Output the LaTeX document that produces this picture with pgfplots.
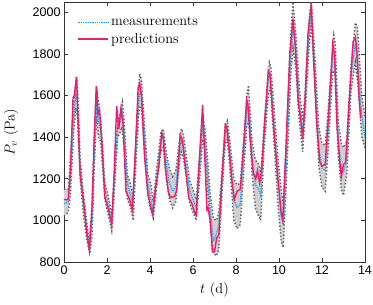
\documentclass[border=0pt]{standalone}
\usepackage{fontspec}
\newfontfamily\tickfont{Liberation Sans}
\usepackage{pgfplots}
\usepackage{pgfplotstable}
\pgfplotsset{compat=1.18}
\usepgfplotslibrary{fillbetween}
\definecolor{predred}{RGB}{238,28,108}
\definecolor{measblue}{RGB}{25,155,245}
\definecolor{bandgray}{RGB}{208,208,208}
\definecolor{bordgray}{RGB}{95,95,95}

\pgfplotstableread{
t P
0.00 1100
0.20 1100
0.30 1250
0.42 1590
0.48 1600
0.58 1690
0.65 1500
0.75 1220
0.90 1100
1.05 950
1.18 855
1.30 1050
1.42 1450
1.50 1645
1.58 1510
1.65 1530
1.75 1400
1.90 1110
2.05 1060
2.22 980
2.32 1200
2.45 1550
2.55 1440
2.65 1540
2.75 1460
2.88 1140
3.05 1100
3.18 1050
3.30 1300
3.45 1640
3.52 1660
3.60 1600
3.75 1300
3.90 1130
4.00 1080
4.13 1025
4.25 1150
4.40 1250
4.55 1420
4.62 1400
4.72 1250
4.85 1140
4.95 1110
5.15 1115
5.25 1150
5.40 1410
5.50 1390
5.65 1250
5.80 1110
5.95 1080
6.10 1030
6.15 1025
6.30 1300
6.45 1555
6.55 1300
6.65 1050
6.70 1060
6.80 1000
6.90 850
7.00 850
7.10 915
7.20 930
7.35 1200
7.50 1460
7.57 1450
7.70 1320
7.80 1200
7.92 1100
8.05 1140
8.20 1150
8.35 1350
8.50 1580
8.55 1560
8.65 1400
8.80 1230
8.92 1200
9.00 1240
9.10 1180
9.20 1250
9.35 1500
9.50 1720
9.58 1700
9.75 1450
9.95 1200
10.10 1040
10.18 1000
10.30 1300
10.50 1800
10.65 1970
10.75 1850
10.90 1560
11.00 1500
11.10 1390
11.20 1550
11.35 1900
11.50 2040
11.60 1800
11.75 1470
11.90 1280
12.00 1260
12.15 1270
12.30 1500
12.50 1850
12.58 1800
12.70 1450
12.82 1290
12.90 1210
13.00 1270
13.10 1280
13.25 1550
13.45 1860
13.55 1880
13.62 1820
13.72 1600
13.80 1490
}\pred

\pgfplotstableread{
t P
0.00 1080
0.20 1090
0.30 1200
0.45 1500
0.55 1600
0.62 1560
0.75 1250
0.90 1080
1.05 960
1.18 880
1.30 1000
1.42 1350
1.52 1560
1.60 1480
1.70 1440
1.90 1150
2.05 1080
2.22 1000
2.35 1200
2.50 1450
2.60 1470
2.70 1520
2.80 1400
2.95 1180
3.05 1130
3.20 1080
3.35 1350
3.50 1600
3.60 1620
3.75 1400
3.90 1180
4.00 1120
4.13 1050
4.30 1200
4.50 1380
4.62 1400
4.75 1280
4.90 1180
5.05 1140
5.20 1160
5.35 1320
5.45 1380
5.55 1360
5.70 1250
5.85 1140
6.00 1100
6.15 1060
6.30 1250
6.45 1450
6.55 1400
6.65 1250
6.80 1050
6.95 900
7.10 940
7.20 980
7.35 1200
7.50 1420
7.60 1440
7.75 1280
7.90 1100
8.05 1060
8.20 1080
8.35 1300
8.50 1530
8.60 1550
8.75 1300
8.90 1170
9.05 1150
9.15 1120
9.30 1400
9.50 1680
9.60 1700
9.75 1480
9.95 1200
10.10 1020
10.20 980
10.35 1300
10.55 1800
10.65 1930
10.78 1820
10.95 1550
11.10 1420
11.20 1550
11.40 1900
11.50 2000
11.65 1750
11.85 1350
12.00 1250
12.15 1240
12.30 1450
12.50 1800
12.60 1780
12.75 1400
12.90 1250
13.00 1230
13.15 1300
13.35 1700
13.55 1850
13.70 1700
13.85 1500
14.00 1400
}\meas

\pgfplotstableread{
t P
0.00 1150
0.20 1150
0.30 1300
0.45 1560
0.58 1695
0.65 1600
0.75 1300
0.90 1130
1.05 1000
1.18 900
1.30 1070
1.42 1420
1.55 1610
1.62 1560
1.72 1470
1.90 1180
2.05 1120
2.22 1030
2.35 1230
2.50 1480
2.60 1510
2.72 1570
2.82 1440
2.95 1220
3.10 1170
3.22 1110
3.35 1400
3.52 1705
3.60 1680
3.75 1450
3.90 1220
4.05 1170
4.15 1090
4.30 1240
4.50 1420
4.62 1440
4.75 1330
4.90 1250
5.05 1210
5.20 1240
5.35 1370
5.45 1440
5.55 1420
5.70 1300
5.85 1190
6.00 1150
6.15 1100
6.30 1300
6.45 1500
6.55 1450
6.65 1330
6.80 1130
6.95 1010
7.10 1000
7.20 1040
7.35 1250
7.50 1460
7.60 1480
7.75 1350
7.90 1200
8.05 1170
8.20 1180
8.35 1380
8.50 1600
8.58 1650
8.75 1380
8.90 1290
9.05 1270
9.15 1230
9.30 1450
9.55 1760
9.62 1740
9.80 1500
9.95 1300
10.10 1150
10.20 1080
10.35 1380
10.55 1900
10.65 2050
10.78 1900
10.95 1630
11.10 1480
11.20 1600
11.40 1960
11.50 2060
11.65 1820
11.85 1450
12.00 1370
12.15 1360
12.30 1550
12.55 1890
12.62 1850
12.75 1480
12.90 1370
13.00 1350
13.15 1380
13.35 1750
13.55 1950
13.65 1930
13.85 1600
14.00 1500
}\hi

\pgfplotstableread{
t P
0.00 1020
0.20 1040
0.30 1130
0.45 1420
0.55 1540
0.62 1500
0.75 1200
0.90 1030
1.05 910
1.20 840
1.30 930
1.42 1280
1.52 1500
1.60 1400
1.70 1380
1.90 1100
2.05 1030
2.22 950
2.35 1150
2.50 1400
2.60 1420
2.70 1450
2.80 1340
2.95 1100
3.10 1060
3.22 1000
3.35 1280
3.50 1540
3.60 1550
3.75 1330
3.90 1120
4.00 1060
4.15 1010
4.30 1150
4.50 1330
4.62 1350
4.75 1200
4.90 1100
5.05 1060
5.20 1090
5.35 1260
5.45 1330
5.55 1300
5.70 1200
5.85 1080
6.00 1040
6.15 1000
6.30 1180
6.45 1390
6.55 1340
6.65 1180
6.80 980
6.95 840
7.10 830
7.20 860
7.35 1130
7.50 1370
7.60 1390
7.75 1200
7.90 1000
8.05 960
8.20 980
8.35 1220
8.50 1450
8.60 1480
8.75 1220
8.90 1060
9.05 1020
9.15 1000
9.30 1330
9.50 1600
9.60 1640
9.75 1400
9.95 1080
10.10 900
10.20 870
10.35 1200
10.55 1700
10.65 1830
10.78 1730
10.95 1470
11.10 1330
11.20 1480
11.40 1830
11.50 1950
11.65 1680
11.85 1260
12.00 1160
12.15 1140
12.30 1360
12.50 1720
12.60 1700
12.75 1320
12.90 1150
13.00 1120
13.15 1220
13.35 1620
13.55 1760
13.70 1620
13.85 1400
14.00 1350
}\lo

\begin{document}
\begin{tikzpicture}
\begin{axis}[
  scale only axis, width=301pt, height=260pt,
  xmin=0, xmax=14, ymin=800, ymax=2050,
  xtick={0,2,...,14}, ytick={800,1000,...,2000},
  tick align=inside, tick pos=both,
  major tick length=4pt,
  axis line style={black!80, line width=0.8pt},
  tick style={black!80, line width=0.8pt},
  ticklabel style={font=\tickfont\fontsize{12.5}{14}\selectfont},
  /pgf/number format/assume math mode=true,
  /pgf/number format/set thousands separator={},
  xlabel={$t$ (d)}, ylabel={$P_v$ (Pa)},
  every axis y label/.style={at={(axis description cs:-0.176,0.5)}, rotate=90, anchor=center,
    font=\fontsize{14.4}{17}\selectfont},
  every axis x label/.style={at={(axis description cs:0.5,-0.108)}, anchor=center,
    font=\fontsize{14.4}{17}\selectfont},
  legend style={draw=none, fill=none, at={(axis description cs:0.035,0.958)}, anchor=north west,
    font=\fontsize{14.4}{17}\selectfont, row sep=2pt},
  legend cell align=left,
  legend image code/.code={\draw[#1] (0pt,0pt) -- (30pt,0pt);},
]
\addlegendimage{measblue, line width=1.3pt, densely dotted}
\addlegendentry{measurements}
\addlegendimage{predred, line width=1.5pt}
\addlegendentry{predictions}
\addplot[name path=H, draw=none, forget plot] table {\hi};
\addplot[name path=L, draw=none, forget plot] table {\lo};
\addplot[bandgray, forget plot] fill between[of=H and L];
\addplot[bordgray, line width=1.4pt, dotted, forget plot] table {\hi};
\addplot[bordgray, line width=1.4pt, dotted, forget plot] table {\lo};
\addplot[measblue, line width=1.2pt, densely dotted, forget plot] table {\meas};
\addplot[predred, line width=1.4pt, forget plot] table {\pred};
\end{axis}
\pgfresetboundingbox
\useasboundingbox ([shift={(-64pt,-43pt)}]current axis.south west) rectangle ([shift={(8pt,2pt)}]current axis.north east);
\end{tikzpicture}
\end{document}
